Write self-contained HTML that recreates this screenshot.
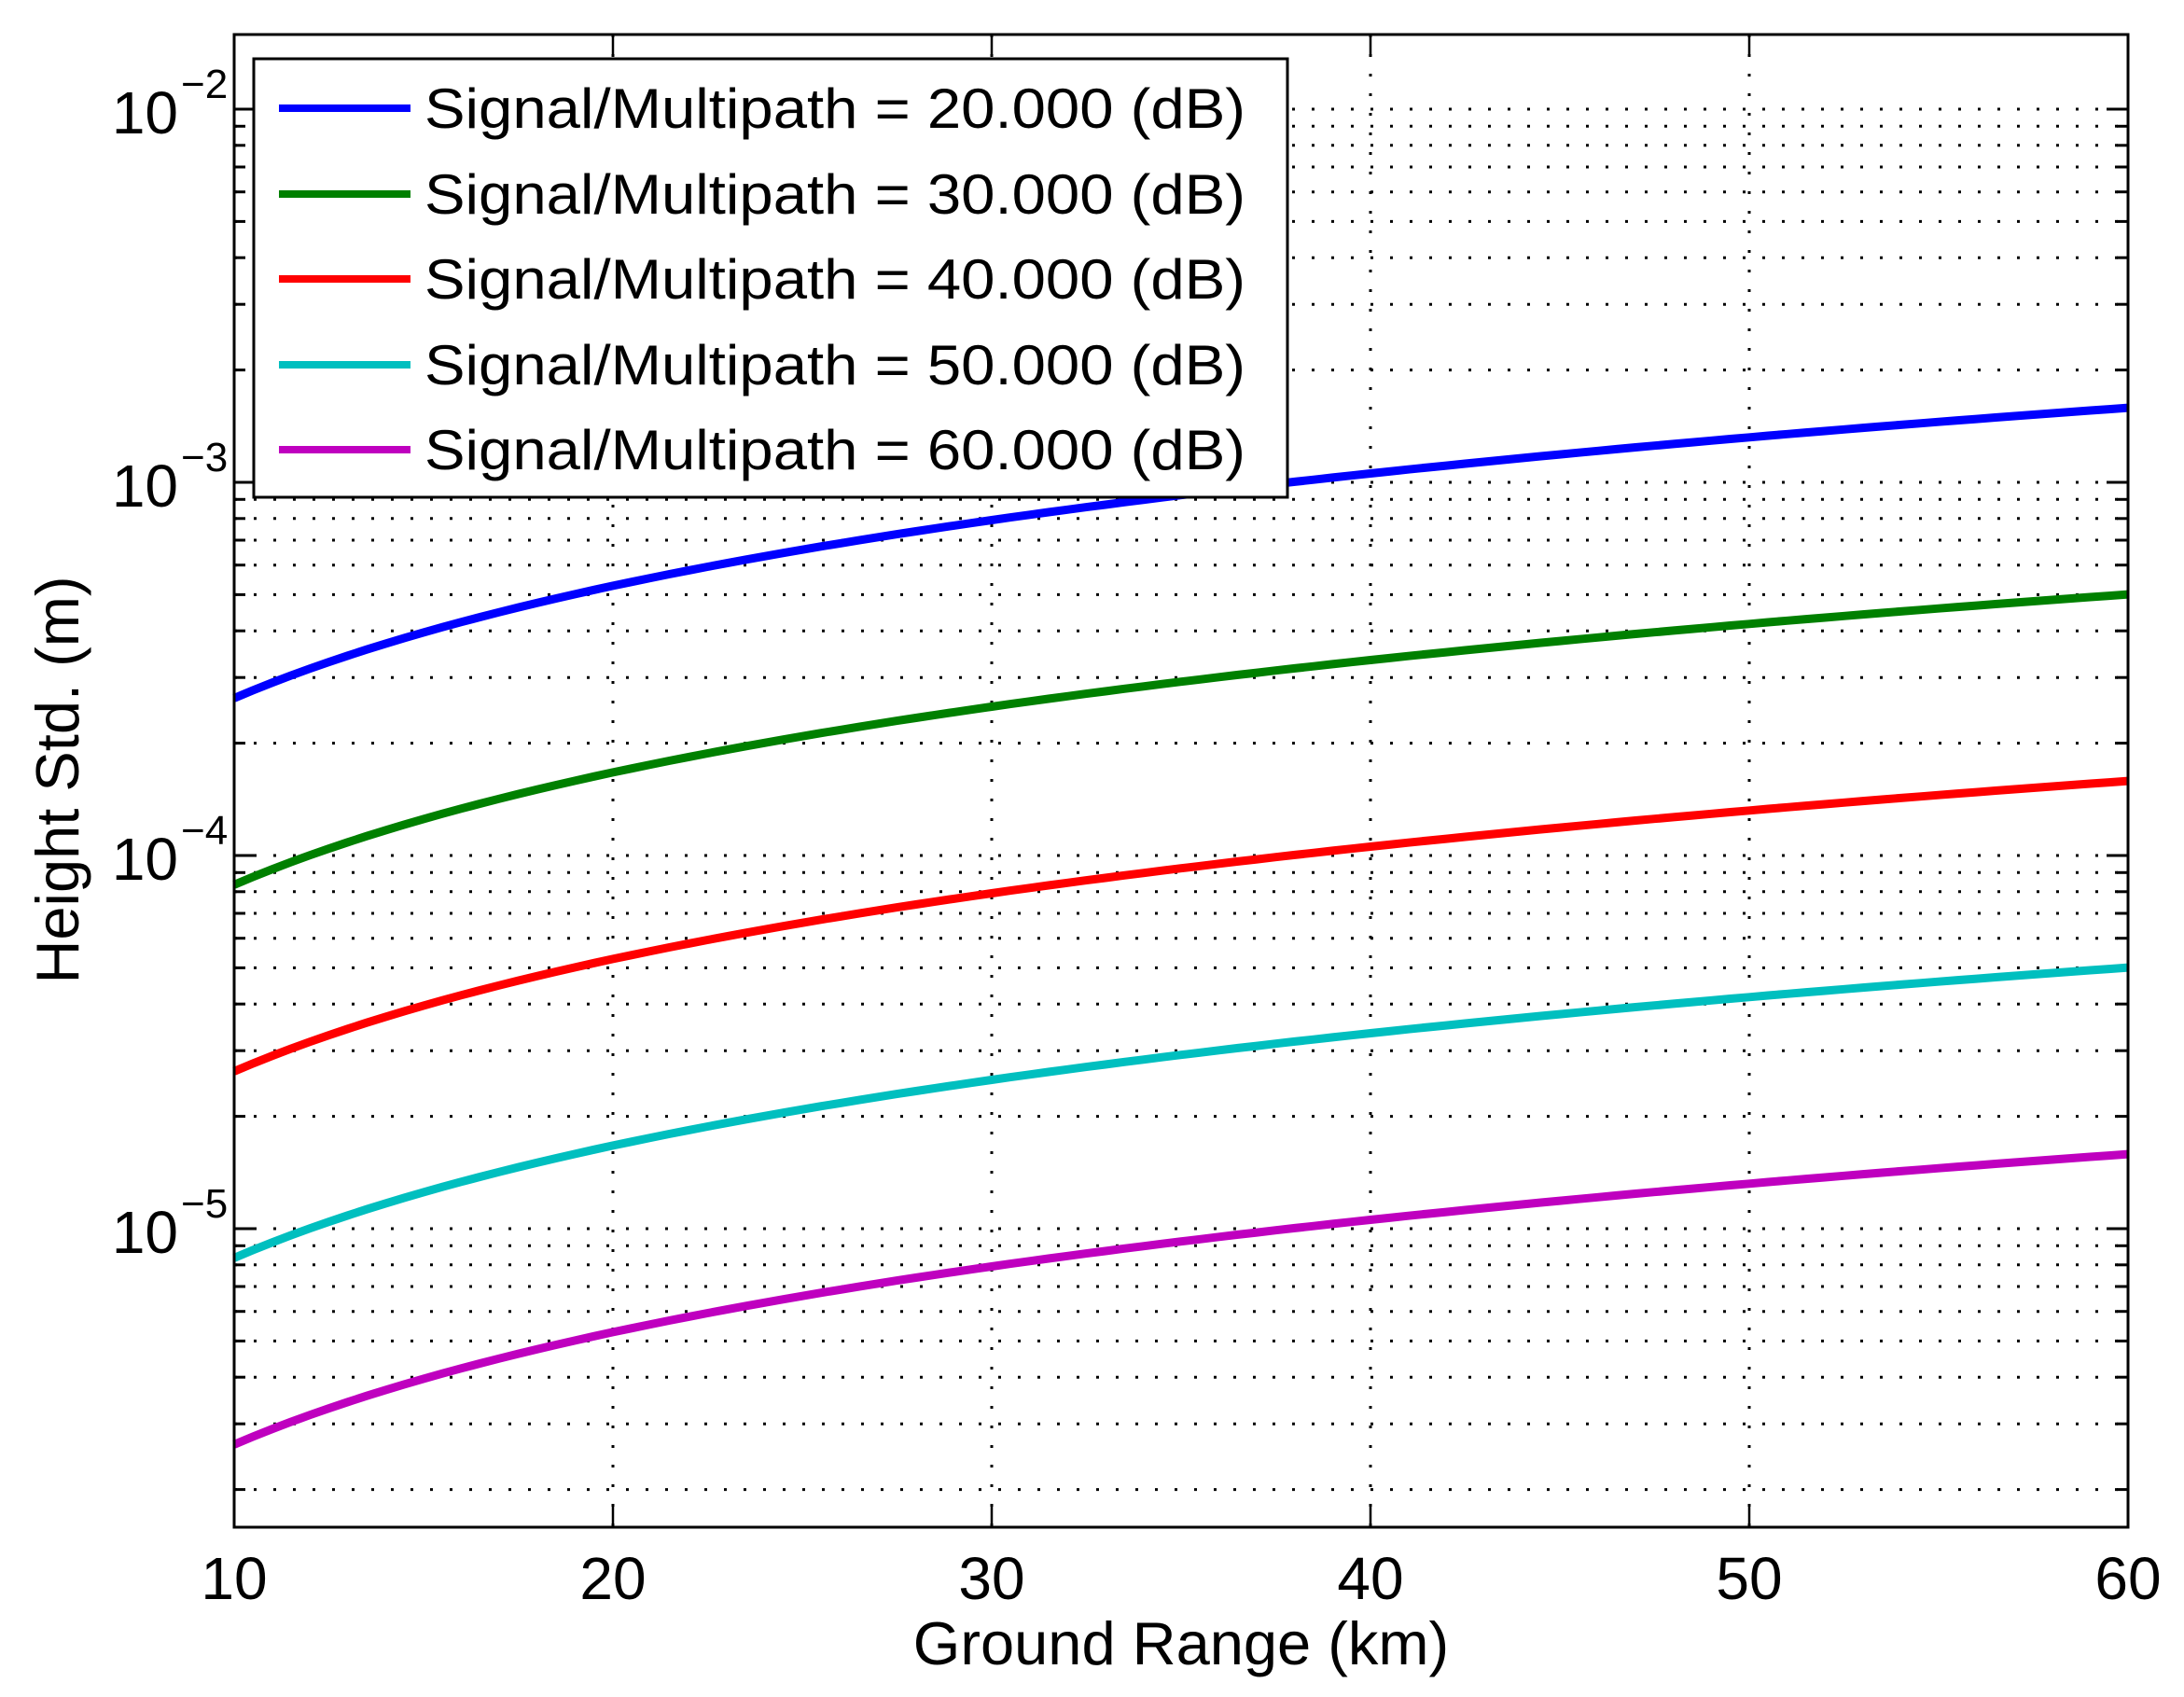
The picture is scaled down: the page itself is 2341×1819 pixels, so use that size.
<!DOCTYPE html>
<html><head><meta charset="utf-8"><style>
html,body{margin:0;padding:0;background:#fff;}
svg{display:block;font-family:"Liberation Sans",Arial,sans-serif;}
</style></head><body>
<svg id="s" width="2341" height="1819" xmlns="http://www.w3.org/2000/svg"></svg>
<script>
var L=251,R=2281,T=37,B=1637,D0=117,DEC=400;
function X(v){return L+(v-10)/50*(R-L);}
function Y(v){return D0-(Math.log10(v)+2)*DEC;}
var h='<rect width="2341" height="1819" fill="#fff"/>';
var g='';
for(var e=-6;e<=-2;e++){for(var m=1;m<=9;m++){var v=m*Math.pow(10,e);var y=Y(v);if(y<T+2||y>B-2)continue;
g+='<line x1="'+L+'" x2="'+R+'" y1="'+y.toFixed(1)+'" y2="'+y.toFixed(1)+'"/>';
h+='<line x1="'+L+'" x2="'+(L+(m==1?23:12))+'" y1="'+y.toFixed(1)+'" y2="'+y.toFixed(1)+'" stroke="#000" stroke-width="3"/>';
h+='<line x1="'+R+'" x2="'+(R-(m==1?23:12))+'" y1="'+y.toFixed(1)+'" y2="'+y.toFixed(1)+'" stroke="#000" stroke-width="3"/>';}}
for(var xv=20;xv<=50;xv+=10){g+='<line x1="'+X(xv)+'" x2="'+X(xv)+'" y1="'+T+'" y2="'+B+'"/>';}
h+='<g stroke="#000" stroke-width="3" stroke-dasharray="3 18">'+g+'</g>';
for(var xv=10;xv<=60;xv+=10){var x=X(xv);
h+='<line x1="'+x+'" x2="'+x+'" y1="'+B+'" y2="'+(B-23)+'" stroke="#000" stroke-width="2.5"/>';
h+='<line x1="'+x+'" x2="'+x+'" y1="'+T+'" y2="'+(T+23)+'" stroke="#000" stroke-width="2.5"/>';
h+='<text x="'+x+'" y="1714" font-size="64" text-anchor="middle">'+xv+'</text>';}
var ex=[-2,-3,-4,-5];
for(var i=0;i<4;i++){var y=Y(Math.pow(10,ex[i]));
h+='<text x="191" y="'+(y+26)+'" font-size="64" text-anchor="end">10</text>';
h+='<text x="194" y="'+(y-12)+'" font-size="44">\u2212'+(-ex[i])+'</text>';}
var cols=['#0000ff','#008000','#ff0000','#00bfbf','#bf00bf'];
var a0=2.64e-4;
for(var k=0;k<5;k++){var a=a0/Math.pow(10,k/2);var p='';
for(var xv=10;xv<=60.001;xv+=0.5){p+=(p?'L':'M')+X(xv).toFixed(1)+','+Y(a*xv/10).toFixed(1);}
h+='<path d="'+p+'" fill="none" stroke="'+cols[k]+'" stroke-width="9"/>';}
h+='<rect x="'+L+'" y="'+T+'" width="'+(R-L)+'" height="'+(B-T)+'" fill="none" stroke="#000" stroke-width="3"/>';
h+='<rect x="272" y="63" width="1108" height="470" fill="#fff" stroke="#000" stroke-width="3"/>';
var ly=[116,208,299,391,482];
for(var k=0;k<5;k++){
h+='<line x1="299" x2="440" y1="'+ly[k]+'" y2="'+ly[k]+'" stroke="'+cols[k]+'" stroke-width="8"/>';
h+='<text x="455" y="'+(ly[k]+21)+'" font-size="60" textLength="880" lengthAdjust="spacingAndGlyphs">Signal/Multipath = '+(20+10*k)+'.000 (dB)</text>';}
h+='<text x="1266" y="1784" font-size="65" text-anchor="middle">Ground Range (km)</text>';
h+='<text x="0" y="0" font-size="65" text-anchor="middle" transform="translate(84,836) rotate(-90)">Height Std. (m)</text>';
document.getElementById('s').innerHTML=h;
</script>
</body></html>
